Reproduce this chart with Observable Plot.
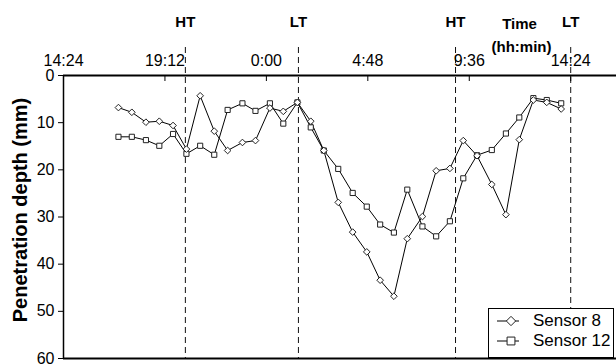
<!DOCTYPE html>
<html><head><meta charset="utf-8">
<script src="https://cdn.jsdelivr.net/npm/d3@7"></script>
<script src="https://cdn.jsdelivr.net/npm/@observablehq/plot@0.6"></script>
<style>
body{margin:0;background:#fff;font-family:"Liberation Sans",Arial,Helvetica,sans-serif}
#wrap{position:relative;width:616px;height:364px;overflow:hidden;background:#fff}
#legend{position:absolute;left:488px;top:308px;width:126px;height:50px;border:1.5px solid #000;background:#fff;box-sizing:border-box}
#legend .row{position:absolute;left:0;height:20px;display:flex;align-items:center}
#legend .row span{font-size:17px;color:#000;margin-left:2px}
</style></head><body><div id="wrap"></div>
<script>
// time in minutes after 14:24 (start of record)
const times = [156,194,234,272,311,349,388,428,466,508,545,586,624,664,702,739,780,821,861,899,938,976,1019,1058,1097,1135,1174,1216,1256,1294,1334,1372,1413];
const sensor8 = [6.8,7.8,9.9,9.7,10.6,15.6,4.3,11.8,15.9,14.2,13.8,6.9,7.6,5.7,9.7,15.9,26.9,33.2,37.4,43.4,46.8,34.6,29.9,20.2,19.7,13.8,17.0,23.1,29.5,13.6,5.2,5.7,7.1];
const sensor12 = [13.0,13.0,13.7,14.9,12.4,16.6,14.9,16.8,7.3,5.9,7.5,5.9,10.2,5.7,11.0,15.9,19.8,24.9,27.8,31.6,33.3,24.2,32.0,34.1,30.9,21.8,16.9,15.8,12.3,8.9,4.8,5.2,5.9];
const seriesNames = ["Sensor 8","Sensor 12"];
const seriesSymbols = ["diamond2","square2"];
const tickValues = [0,288,576,864,1152,1440];
const tickLabels = ["14:24","19:12","0:00","4:48","9:36","14:24"];
const tideTimes = [346,667,1113,1440];
const tideLabels = ["HT","LT","HT","LT"];
const yTicks = [0,10,20,30,40,50,60];

const rows = [];
times.forEach((t,i)=>{
  rows.push({t, v: sensor8[i], s: seriesNames[0]});
  rows.push({t, v: sensor12[i], s: seriesNames[1]});
});
const tides = tideTimes.map((t,i)=>({t, label: tideLabels[i]}));

const chart = Plot.plot({
  width: 616, height: 364,
  marginTop: 75, marginBottom: 6, marginLeft: 63, marginRight: 0,
  style: {fontFamily: '"Liberation Sans", Arial, sans-serif', color: "#000", background: "#fff"},
  x: {domain: [0, 1570]},
  y: {domain: [0, 60], reverse: true},
  symbol: {domain: seriesNames, range: seriesSymbols},
  marks: [
    Plot.ruleX(tides, {x: "t", stroke: "#111", strokeWidth: 1, strokeDasharray: "6,4", insetTop: -28}),
    Plot.line(rows, {x: "t", y: "v", z: "s", stroke: "#000", strokeWidth: 1}),
    Plot.dot(rows, {x: "t", y: "v", symbol: "s", r: d => d.s === seriesNames[0] ? 4.2 : 5, fill: "#fff", stroke: "#222", strokeWidth: 1}),
    Plot.ruleY([0], {stroke: "#000", strokeWidth: 2}),
    Plot.ruleY([60], {stroke: "#000", strokeWidth: 2}),
    Plot.ruleX([0], {stroke: "#000", strokeWidth: 1.5}),
    Plot.axisX({anchor: "top", ticks: tickValues, tickFormat: (d) => tickLabels[tickValues.indexOf(d)], tickSize: -5, tickPadding: 15, fontSize: 16, label: null}),
    Plot.axisY({anchor: "left", ticks: yTicks, tickSize: 5, tickPadding: 4, fontSize: 16, label: null}),
    Plot.text(tides, {x: "t", text: "label", frameAnchor: "top", dy: -59, fontSize: 15, fontWeight: "bold"}),
    Plot.text(["Time"], {frameAnchor: "top-right", text: d => d, dx: -97, dy: -57, textAnchor: "middle", fontSize: 15, fontWeight: "bold"}),
    Plot.text(["(hh:min)"], {frameAnchor: "top-right", text: d => d, dx: -95, dy: -34, textAnchor: "middle", fontSize: 15, fontWeight: "bold"}),
    Plot.text(["Penetration depth (mm)"], {frameAnchor: "left", text: d => d, rotate: -90, textAnchor: "middle", dx: -43, dy: -7, fontSize: 20, fontWeight: "bold"})
  ]
});
const wrap = document.getElementById("wrap");
wrap.appendChild(chart);

// legend
const legend = document.createElement("div");
legend.id = "legend";
seriesNames.forEach((name, i) => {
  const row = document.createElement("div");
  row.className = "row";
  row.style.top = (2 + i * 20) + "px";
  const sym = i === 0 ? d3.symbolDiamond2 : d3.symbolSquare2;
  const r = i === 0 ? 4.2 : 5;
  const path = d3.symbol(sym, r * r * Math.PI)();
  row.innerHTML = `<svg width="42" height="20"><line x1="8" x2="30" y1="10" y2="10" stroke="#000"/><path d="${path}" transform="translate(22,10)" fill="#fff" stroke="#222"/></svg><span>${name}</span>`;
  legend.appendChild(row);
});
wrap.appendChild(legend);
</script></body></html>
